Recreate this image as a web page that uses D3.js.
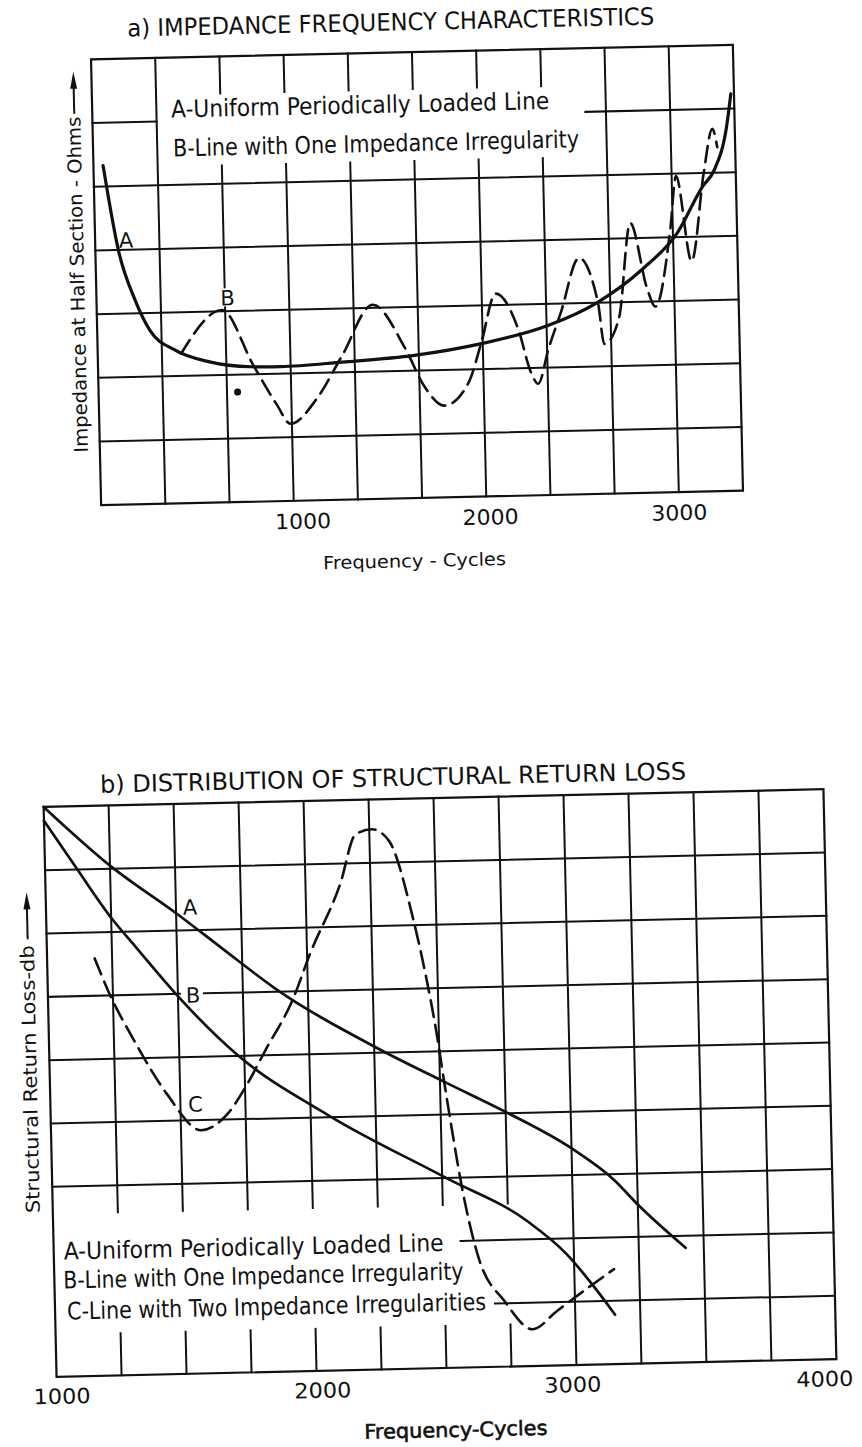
<!DOCTYPE html>
<html>
<head>
<meta charset="utf-8">
<title>Impedance and Structural Return Loss</title>
<script src="https://cdnjs.cloudflare.com/ajax/libs/d3/7.8.5/d3.min.js"></script>
<style>
  body { margin: 0; background: #fff; }
  svg text { font-family: "DejaVu Sans", sans-serif; fill: #111; }
  .grid line { stroke: #111; stroke-width: 2; stroke-linecap: square; }
  .frame { stroke: #111; stroke-width: 2.2; fill: none; }
  .curve { fill: none; stroke: #111; stroke-linecap: round; stroke-linejoin: round; }
</style>
</head>
<body>
<div id="canvas"></div>
<script>
/*
 a) impedance frequency characteristics (y in grid units, no scale printed)
*/
var impFreqA = [50, 120, 200, 273, 400, 580, 790, 947, 1270, 1643, 1993, 2340, 2597, 2837, 3023, 3160, 3220, 3290, 3317];
var impA = [5.33, 3.99, 3.21, 2.73, 2.41, 2.21, 2.12, 2.11, 2.16, 2.24, 2.40, 2.66, 3.00, 3.51, 4.07, 4.79, 5.03, 5.70, 6.23];
var impFreqB = [433, 650, 807, 923, 993, 1133, 1270, 1433, 1597, 1690, 1793, 1923, 1993, 2073, 2187, 2247, 2283, 2340, 2410, 2510, 2603, 2630, 2710, 2780, 2860, 2900, 2987, 3023, 3093, 3167, 3217, 3240];
var impB = [2.35, 3.02, 2.14, 1.52, 1.21, 1.60, 2.27, 3.05, 2.35, 1.76, 1.44, 1.80, 2.42, 3.18, 2.60, 1.93, 1.75, 2.29, 2.87, 3.71, 3.00, 2.35, 2.75, 4.24, 3.20, 2.92, 4.13, 4.96, 3.62, 5.00, 5.69, 5.40];
var impTicks = [1000, 2000, 3000];
var impLegend = ["A-Uniform Periodically Loaded Line", "B-Line with One Impedance Irregularity"];

/*
 b) distribution of structural return loss
*/
var rlFreqA = [1000, 1250, 1508, 1675, 1875, 2250, 2515, 2750, 3008, 3163, 3250, 3430];
var rlA = [9.0, 8.05, 7.25, 6.7, 6.05, 5.1, 4.52, 4.02, 3.4, 2.9, 2.51, 1.81];
var rlFreqB = [1000, 1118, 1253, 1343, 1490, 1725, 2068, 2515, 2823, 2973, 3078, 3153];
var rlB = [8.78, 8.04, 7.21, 6.75, 6.01, 5.01, 4.03, 3.0, 2.29, 1.75, 1.21, 0.78];
var rlFreqC = [1183, 1245, 1320, 1448, 1578, 1683, 1748, 1833, 1940, 2013, 2133, 2198, 2260, 2325, 2410, 2453, 2495, 2515, 2538, 2575, 2633, 2728, 2835, 2930, 3015, 3153];
var rlC = [6.59, 5.95, 5.34, 4.43, 3.84, 4.10, 4.48, 5.09, 5.86, 6.6, 7.67, 8.46, 8.53, 8.34, 7.12, 6.24, 5.18, 4.55, 3.87, 2.85, 1.73, 1.04, 0.58, 0.86, 1.11, 1.5];
var rlTicks = [1000, 2000, 3000, 4000];
var rlLegend = ["A-Uniform Periodically Loaded Line", "B-Line with One Impedance Irregularity", "C-Line with Two Impedance Irregularities"];

// hand lettering is not centred on the grid lines; small shifts per label
var impTickNudge = [9, 4, 0];
var rlTickNudge = [5, 6, -4, -12];

var W = 862, H = 1447;

var svg = d3.select("#canvas").append("svg")
  .attr("width", W).attr("height", H)
  .style("display", "block");

// helper: a line split into pieces, skipping the gaps [a, b]
function pieces(lo, hi, gaps) {
  var out = [], start = lo;
  (gaps || []).forEach(function (g) {
    out.push([start, g[0]]);
    start = g[1];
  });
  out.push([start, hi]);
  return out;
}

function addText(g, txt, x, y, size, len, anchor) {
  var t = g.append("text")
    .attr("x", x).attr("y", y)
    .attr("font-size", size)
    .attr("text-anchor", anchor || "start")
    .text(txt);
  if (len) t.attr("textLength", len).attr("lengthAdjust", "spacingAndGlyphs");
  return t;
}

function arrowUp(g, x, yTip, yEnd) {
  g.append("line").attr("x1", x).attr("x2", x).attr("y1", yTip + 14).attr("y2", yEnd)
    .attr("stroke", "#111").attr("stroke-width", 2);
  g.append("path")
    .attr("d", "M" + x + "," + yTip + "L" + (x - 3.5) + "," + (yTip + 17) + "L" + (x + 3.5) + "," + (yTip + 17) + "Z")
    .attr("fill", "#111");
}

/*
 Chart a)
*/
function drawImpedance() {
  var x = d3.scaleLinear().domain([0, 10000 / 3]).range([96, 738]);
  var y = d3.scaleLinear().domain([0, 7]).range([498, 52]);

  var g = svg.append("g").attr("transform", "rotate(-1.3,417,275)");
  var grid = g.append("g").attr("class", "grid");

  // vertical grid every 1/3 of 1000 cycles
  d3.range(1, 10).forEach(function (i) {
    var f = i * 1000 / 3, gaps = [];
    if (i >= 2 && i <= 7) gaps.push([89, 161]);
    if (i == 2) gaps.push([283, 303]);
    pieces(y(7), y(0), gaps).forEach(function (p) {
      grid.append("line").attr("x1", x(f)).attr("x2", x(f)).attr("y1", p[0]).attr("y2", p[1]);
    });
  });
  d3.range(1, 7).forEach(function (j) {
    var segs = j == 6 ? [[x(0), x(1000 / 3)], [589, x(10000 / 3)]] : [[x(0), x(10000 / 3)]];
    segs.forEach(function (p) {
      grid.append("line").attr("x1", p[0]).attr("x2", p[1]).attr("y1", y(j)).attr("y2", y(j));
    });
  });
  g.append("rect").attr("class", "frame")
    .attr("x", x(0)).attr("y", y(7))
    .attr("width", x(10000 / 3) - x(0)).attr("height", y(0) - y(7));

  var line = d3.line().x(function (d) { return x(d[0]); }).y(function (d) { return y(d[1]); })
    .curve(d3.curveMonotoneX);

  g.append("path").attr("class", "curve")
    .attr("d", line(d3.zip(impFreqA, impA)))
    .attr("stroke-width", 3.2);
  g.append("path").attr("class", "curve")
    .attr("d", line(d3.zip(impFreqB, impB)))
    .attr("stroke-width", 2.6)
    .attr("stroke-dasharray", "16,8");

  g.append("circle").attr("cx", 235).attr("cy", 388).attr("r", 3.5).attr("fill", "#111");

  addText(g, "a) IMPEDANCE  FREQUENCY  CHARACTERISTICS", 133, 30, 24, 527);
  addText(g, impLegend[0], 175, 112, 24, 378);
  addText(g, impLegend[1], 176, 151, 24, 406);
  addText(g, "A", 127, 241, 21, 0, "middle");
  addText(g, "B", 227, 301, 21, 0, "middle");

  impTicks.forEach(function (t, i) {
    addText(g, String(t), x(t) + impTickNudge[i], 526, 21, 56, "middle");
  });
  addText(g, "Frequency - Cycles", 408, 567, 18, 183, "middle");

  addText(g, "Impedance at Half Section - Ohms", 0, 0, 19, 336, "middle")
    .attr("transform", "translate(84,277) rotate(-90)");
  arrowUp(g, 78, 64, 106);
}

/*
 Chart b)
*/
function drawReturnLoss() {
  var x = d3.scaleLinear().domain([1000, 4000]).range([50, 830]);
  var y = d3.scaleLinear().domain([0, 9]).range([1368, 798]);

  var g = svg.append("g").attr("transform", "rotate(-1.3,440,1083)");
  var grid = g.append("g").attr("class", "grid");

  d3.range(1, 12).forEach(function (i) {
    var f = 1000 + i * 250, gaps = [];
    if (i <= 7) gaps.push([1205, 1326]);
    pieces(y(9), y(0), gaps).forEach(function (p) {
      grid.append("line").attr("x1", x(f)).attr("x2", x(f)).attr("y1", p[0]).attr("y2", p[1]);
    });
  });
  d3.range(1, 9).forEach(function (j) {
    var segs = [[x(1000), x(4000)]];
    if (j == 2) segs = [[457, x(4000)]];
    if (j == 1) segs = [[490, x(4000)]];
    if (j == 6) segs = pieces(x(1000), x(4000), [[182, 206]]);
    segs.forEach(function (p) {
      grid.append("line").attr("x1", p[0]).attr("x2", p[1]).attr("y1", y(j)).attr("y2", y(j));
    });
  });
  g.append("rect").attr("class", "frame")
    .attr("x", x(1000)).attr("y", y(9))
    .attr("width", x(4000) - x(1000)).attr("height", y(0) - y(9));

  var line = d3.line().x(function (d) { return x(d[0]); }).y(function (d) { return y(d[1]); })
    .curve(d3.curveMonotoneX);

  g.append("path").attr("class", "curve")
    .attr("d", line(d3.zip(rlFreqA, rlA))).attr("stroke-width", 2.7);
  g.append("path").attr("class", "curve")
    .attr("d", line(d3.zip(rlFreqB, rlB))).attr("stroke-width", 2.7);
  g.append("path").attr("class", "curve")
    .attr("d", line(d3.zip(rlFreqC, rlC))).attr("stroke-width", 2.6)
    .attr("stroke-dasharray", "17,8");

  addText(g, "b) DISTRIBUTION  OF  STRUCTURAL  RETURN  LOSS", 107, 785, 24, 586);
  addText(g, "A", 194, 909, 21, 0, "middle");
  addText(g, "B", 195, 997, 21, 0, "middle");
  addText(g, "C", 195, 1106, 21, 0, "middle");

  addText(g, rlLegend[0], 60, 1251, 24, 380);
  addText(g, rlLegend[1], 59, 1280, 24, 400);
  addText(g, rlLegend[2], 62, 1311, 24, 419);

  rlTicks.forEach(function (t, i) {
    addText(g, String(t), x(t) + rlTickNudge[i], 1395, 21, 57, "middle");
  });
  addText(g, "Frequency-Cycles", 448, 1437, 20, 183, "middle")
    .attr("stroke", "#111").attr("stroke-width", 0.6);

  addText(g, "Structural Return Loss-db", 0, 0, 19, 268, "middle")
    .attr("transform", "translate(37,1070) rotate(-90)");
  arrowUp(g, 31, 883, 930);
}

drawImpedance();
drawReturnLoss();
</script>
</body>
</html>
